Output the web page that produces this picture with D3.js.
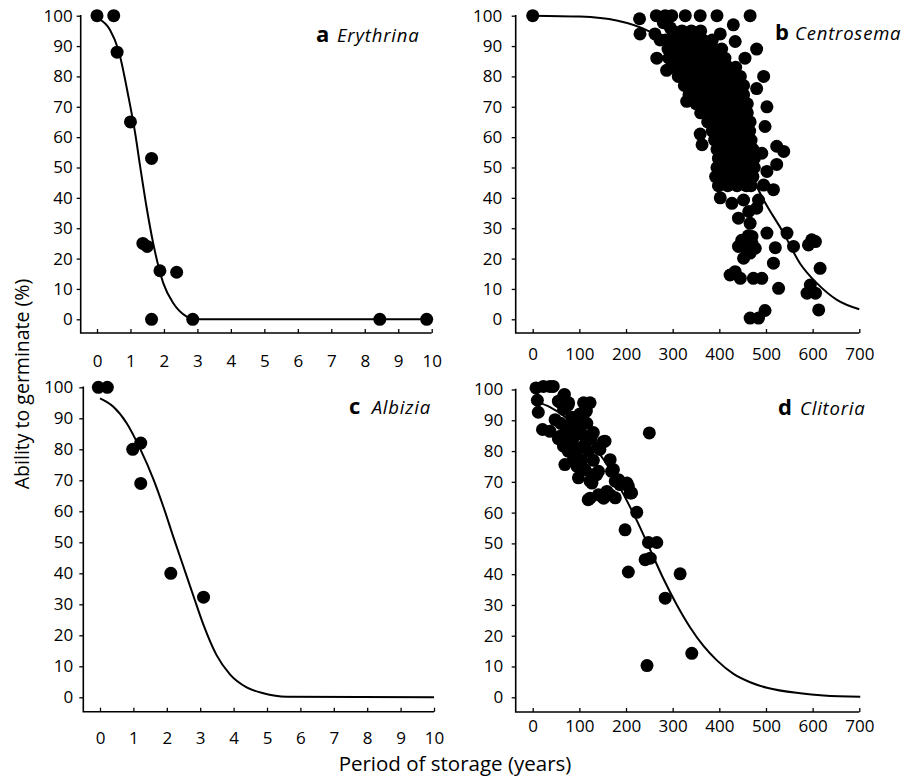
<!doctype html>
<head>
  <title>seed longevity panels</title>
</head>
<style>
  body { margin: 0; background: #fff; }
  svg text { font-family: "Open Sans", "Noto Sans", sans-serif; fill: #000; }
</style>
<body>
  <script src="https://d3js.org/d3.v7.min.js"></script>
  <svg id="chart" width="905" height="778"></svg>
  <script>

  // ---- data ----
  const germTicks = [0, 10, 20, 30, 40, 50, 60, 70, 80, 90, 100];
  const yearTicksShort = [0, 1, 2, 3, 4, 5, 6, 7, 8, 9, 10];
  const yearTicksLong = [0, 100, 200, 300, 400, 500, 600, 700];

  const panelLetters = ["a", "b", "c", "d"];
  const speciesNames = ["Erythrina", "Centrosema", "Albizia", "Clitoria"];

  // a Erythrina
  const erythrinaPoints = [[0, 100], [0.5, 100], [0.6, 88], [1.0, 65], [1.63, 53], [1.37, 25], [1.5, 24],
    [1.88, 16], [2.38, 15.5], [1.63, 0], [2.86, 0], [8.45, 0], [9.85, 0]];
  const erythrinaFit = [[0.04, 99], [0.39, 95.3], [0.64, 88.7], [0.94, 73.3], [1.14, 61.3], [1.29, 50.3],
    [1.48, 37], [1.68, 25], [1.98, 11.9], [2.28, 5.3], [2.68, 0.9], [2.88, 0], [9.9, 0]];

  // b Centrosema (dense cloud + stragglers)
  const centrosemaPoints = [
    [0, 100], [229, 99], [265, 100], [280, 97.7], [284, 100], [298, 100], [327, 100], [359, 100], [395, 100], [466, 100],
    [230, 94], [262, 94], [273, 92], [266, 86], [287, 82], [295, 96], [330, 71.8], [359, 61], [363, 57.5],
    [430, 97], [434, 91.5], [402, 94], [455, 86], [480, 89], [495, 80], [480, 76], [502, 70], [498, 63.5],
    [523, 57], [538, 55.3], [502, 48.7], [523, 51], [516, 42.7], [491, 54.7], [495, 44.2],
    [402, 40], [427, 38.2], [452, 39.3], [484, 39.3], [480, 36.6], [463, 35.5], [441, 33.3], [466, 31.6],
    [470, 27.3], [502, 28.4], [545, 28.4], [559, 24], [520, 23.6], [598, 26.2], [606, 25.6], [591, 24.5],
    [441, 24], [477, 23.4], [452, 20.1], [466, 21.8], [516, 18.5], [616, 16.8], [423, 14.6], [445, 13.5],
    [473, 13.5], [491, 13.5], [434, 15.7], [527, 10.2], [595, 11.3], [588, 8.6], [606, 8.6], [613, 3.1],
    [466, 0.4], [484, 0.4], [498, 2.9], [448, 26], [462, 27.5], [456, 23.5], [470, 25],
    [300, 95], [320, 95], [340, 95], [360, 95],
    [285, 92], [305, 92], [325, 92], [345, 92], [365, 92], [385, 92],
    [290, 89], [310, 89], [330, 89], [350, 89], [370, 89], [390, 89], [405, 89],
    [292, 86], [312, 86], [332, 86], [352, 86], [372, 86], [392, 86], [412, 86],
    [300, 83], [320, 83], [340, 83], [360, 83], [380, 83], [400, 83], [420, 83], [435, 83],
    [312, 80], [332, 80], [352, 80], [372, 80], [392, 80], [412, 80], [432, 80], [445, 80],
    [325, 77], [345, 77], [365, 77], [385, 77], [405, 77], [425, 77], [445, 77], [452, 77],
    [335, 74], [355, 74], [375, 74], [395, 74], [415, 74], [435, 74], [452, 74],
    [350, 71], [370, 71], [390, 71], [410, 71], [430, 71], [450, 71], [460, 71],
    [360, 68], [380, 68], [400, 68], [420, 68], [440, 68], [460, 68],
    [375, 65], [395, 65], [415, 65], [435, 65], [455, 65], [466, 65],
    [385, 62], [405, 62], [425, 62], [445, 62], [465, 62],
    [390, 59], [410, 59], [430, 59], [450, 59], [468, 59],
    [395, 56], [415, 56], [435, 56], [455, 56], [472, 56],
    [398, 53], [418, 53], [438, 53], [458, 53], [475, 53],
    [395, 50], [415, 50], [435, 50], [455, 50], [475, 50],
    [392, 47], [412, 47], [432, 47], [452, 47], [472, 47],
    [398, 44], [418, 44], [438, 44], [458, 44], [468, 44]];
  const centrosemaFit = [[0, 100], [101, 99.7], [180, 98.4], [252, 94.7], [300, 90.1], [350, 81.3],
    [400, 68.7], [450, 53.5], [495, 39.3], [538, 28.3], [573, 18.4], [609, 11.9], [652, 6.4], [700, 3.3]];

  // c Albizia
  const albiziaPoints = [[-0.05, 100], [0.22, 100], [0.98, 80], [1.22, 82], [1.22, 69], [2.12, 40], [3.1, 32.3]];
  const albiziaFit = [[0, 96.4], [0.4, 93.7], [0.8, 88.4], [1.2, 80.2], [1.6, 70.3], [1.9, 61.4], [2.2, 51.6],
    [2.5, 42.1], [2.8, 32.6], [3.09, 23.6], [3.49, 13.6], [3.89, 7.4], [4.39, 3.2], [4.89, 1.3], [5.59, 0.2], [10, 0]];

  // d Clitoria
  const clitoriaPoints = [
    [7, 100.5], [23, 101], [37, 101], [44, 101], [10, 96.5], [12, 92.6], [21, 87], [37, 86.4], [55, 96.2],
    [66, 97.8], [77, 95.7], [109, 95.7], [123, 95.7], [48, 90.2], [66, 93.5], [59, 84.8], [69, 75.6],
    [80, 81.6], [87, 77.2], [98, 71.3], [112, 74], [123, 70.2], [119, 64.2], [137, 72.3], [141, 81],
    [155, 83.2], [166, 77.2], [173, 74], [148, 65.3], [159, 66.9], [177, 64.8], [187, 69.1], [205, 68.5],
    [212, 66.4], [223, 60.1], [198, 54.4], [205, 40.7], [241, 44.7], [252, 45.2], [248, 50.3], [266, 50.3],
    [250, 85.9], [284, 32.2], [316, 40.1], [341, 14.3], [245, 10.3],
    [58, 96], [68, 98.4], [76, 95], [84, 91], [101, 92], [69, 85], [55, 84], [66, 81.6], [76, 80],
    [109, 81.6], [130, 86], [116, 89], [151, 83], [144, 80.5], [126, 72.3], [141, 73.4], [127, 69.6],
    [169, 73.4], [177, 70.2], [184, 70.7], [202, 69.6], [209, 66.4], [152, 64.7], [123, 64.7], [141, 65.8],
    [166, 65.8], [80, 88], [90, 85], [100, 87], [110, 85], [95, 80], [105, 77], [85, 83], [70, 88],
    [120, 80], [125, 84], [60, 89], [93, 90], [115, 93], [130, 77], [95, 75]];
  const clitoriaFit = [[10, 95.9], [37, 94.3], [108.6, 85.5], [165.8, 74], [194.4, 66], [223, 57.5],
    [251.7, 48], [280.2, 38.5], [309, 30], [337.5, 22.7], [366, 16.7], [394.8, 12], [430.4, 7.6],
    [466, 4.9], [502, 3.1], [573.5, 1.3], [623.5, 0.6], [702, 0.2]];

  // ---- layout ----
  const panels = [
    {points: erythrinaPoints, fit: erythrinaFit, xTicks: yearTicksShort, xMax: 10,
     left: 80.7, x0: 97, x1: 431.7, top: 15.7, zero: 319.3, bottom: 333, xPad: 22, yPad: 4,
     letterX: 316, nameX: 337, titleY: 42},
    {points: centrosemaPoints, fit: centrosemaFit, xTicks: yearTicksLong, xMax: 700,
     left: 515.7, x0: 532.7, x1: 859.3, top: 15.7, zero: 319.3, bottom: 333, xPad: 15, yPad: 9.5,
     letterX: 775, nameX: 795, titleY: 40},
    {points: albiziaPoints, fit: albiziaFit, xTicks: yearTicksShort, xMax: 10,
     left: 83.3, x0: 100, x1: 434, top: 387.3, zero: 697.3, bottom: 711.7, xPad: 20, yPad: 6,
     letterX: 349, nameX: 371.7, titleY: 414},
    {points: clitoriaPoints, fit: clitoriaFit, xTicks: yearTicksLong, xMax: 700,
     left: 515.7, x0: 532.7, x1: 859.3, top: 389.5, zero: 697.3, bottom: 712, xPad: 8, yPad: 8.5,
     letterX: 778, nameX: 800, titleY: 415}
  ];

  const svg = d3.select("#chart");

  panels.forEach(function (p, i) {
    let x = d3.scaleLinear().domain([0, p.xMax]).range([p.x0, p.x1]);
    let y = d3.scaleLinear().domain([0, 100]).range([p.zero, p.top]);
    let g = svg.append("g");

    // y axis
    g.append("g")
      .attr("transform", "translate(" + p.left + ",0)")
      .call(d3.axisLeft(y).tickValues(germTicks).tickSize(4).tickPadding(p.yPad))
      .call(a => a.select(".domain").remove())
      .call(a => a.selectAll("text").style("font-size", "17px"))
      .call(a => a.selectAll("line").attr("stroke-width", 1.3));

    // x axis, ticks pointing inward
    g.append("g")
      .attr("transform", "translate(0," + p.bottom + ")")
      .call(d3.axisBottom(x).tickValues(p.xTicks).tickSize(-4).tickPadding(p.xPad))
      .call(a => a.select(".domain").remove())
      .call(a => a.selectAll("text").style("font-size", "17px"))
      .call(a => a.selectAll("line").attr("stroke-width", 1.3));

    // axis lines
    g.append("path")
      .attr("d", "M" + p.left + "," + (p.top - 0.8) + "V" + p.bottom + "H" + p.x1)
      .attr("fill", "none")
      .attr("stroke", "#000")
      .attr("stroke-width", 1.6);

    // fitted curve
    g.append("path")
      .datum(p.fit)
      .attr("d", d3.line().x(d => x(d[0])).y(d => y(d[1])).curve(d3.curveMonotoneX))
      .attr("fill", "none")
      .attr("stroke", "#000")
      .attr("stroke-width", 2);

    // observations
    g.append("g")
      .selectAll("circle")
      .data(p.points)
      .enter()
      .append("circle")
      .attr("cx", d => x(d[0]))
      .attr("cy", d => y(d[1]))
      .attr("r", 6.5)
      .attr("fill", "#000");

    // panel title
    g.append("text")
      .attr("x", p.letterX)
      .attr("y", p.titleY)
      .style("font-size", "22px")
      .style("font-weight", "bold")
      .text(panelLetters[i]);
    g.append("text")
      .attr("x", p.nameX)
      .attr("y", p.titleY)
      .style("font-size", "18.5px")
      .style("letter-spacing", "0.8px")
      .style("font-style", "italic")
      .text(speciesNames[i]);
  });

  // shared axis titles
  svg.append("text")
    .attr("transform", "translate(29,384) rotate(-90)")
    .attr("text-anchor", "middle")
    .style("font-size", "19.5px")
    .text("Ability to germinate (%)");

  svg.append("text")
    .attr("x", 455)
    .attr("y", 771)
    .attr("text-anchor", "middle")
    .style("font-size", "20.5px")
    .text("Period of storage (years)");

  </script>
</body>
